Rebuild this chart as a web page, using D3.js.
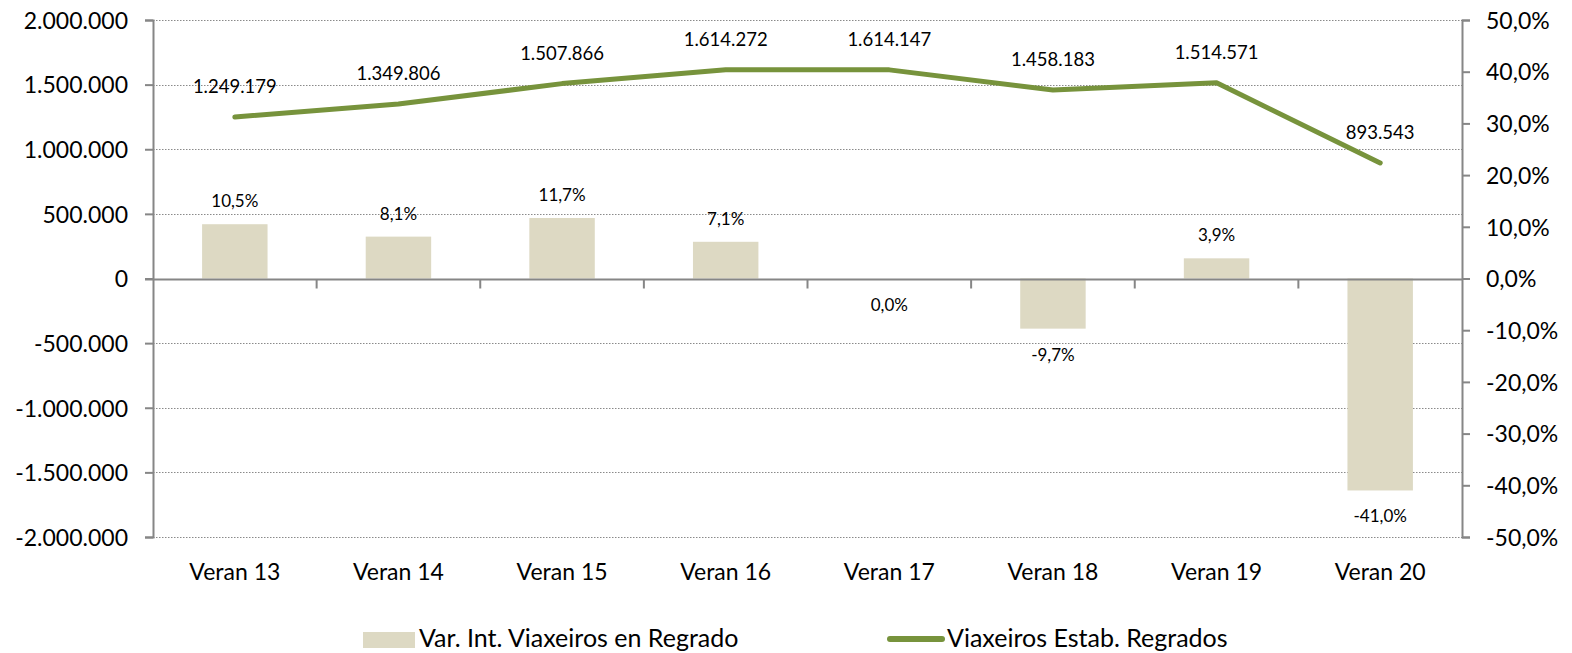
<!DOCTYPE html>
<html>
<head>
<meta charset="utf-8">
<script src="https://cdn.jsdelivr.net/npm/d3@7"></script>
<style>
  html, body { margin: 0; padding: 0; background: #fff; }
  svg { display: block; font-family: Lato, "Open Sans", sans-serif; }
</style>
</head>
<body>
<svg id="chart" width="1572" height="653"></svg>
<script>
// ---- data ----
const categories = ["Veran 13", "Veran 14", "Veran 15", "Veran 16", "Veran 17", "Veran 18", "Veran 19", "Veran 20"];
const viaxeiros = [1249179, 1349806, 1507866, 1614272, 1614147, 1458183, 1514571, 893543];
const variacion = [10.5, 8.1, 11.7, 7.1, 0.0, -9.7, 3.9, -41.0];
const leftTicks = [-2000000, -1500000, -1000000, -500000, 0, 500000, 1000000, 1500000, 2000000];
const rightTicks = [-50, -40, -30, -20, -10, 0, 10, 20, 30, 40, 50];
const legendLabels = ["Var. Int. Viaxeiros en Regrado", "Viaxeiros Estab. Regrados"];

// ---- setup ----
const svg = d3.select("#chart");
const L = 153, R = 1462, T = 20, B = 537;
const axisColor = "#868686";
const barColor = "#DDD9C3";
const lineColor = "#77933C";

const loc = d3.formatLocale({decimal: ",", thousands: ".", grouping: [3], currency: ["", ""], minus: "-"});
const fmtInt = loc.format(",d");
const fmt1 = loc.format(".1f");

const x = d3.scaleBand().domain(categories).range([L, R]).paddingInner(0).paddingOuter(0);
const yL = d3.scaleLinear().domain([-2000000, 2000000]).range([B, T]);
const yR = d3.scaleLinear().domain([-50, 50]).range([B, T]);
const bw = x.bandwidth() * 0.4;

// gridlines (dotted)
svg.append("g").selectAll("line")
  .data(leftTicks.filter(d => d !== 0))
  .join("line")
  .attr("x1", L).attr("x2", R)
  .attr("y1", d => Math.round(yL(d)) + 0.5).attr("y2", d => Math.round(yL(d)) + 0.5)
  .attr("stroke", "#8a8a8a").attr("stroke-width", 1)
  .attr("stroke-dasharray", "1.5,1.5");

// bars
svg.append("g").selectAll("rect")
  .data(variacion)
  .join("rect")
  .attr("x", (d, i) => x(categories[i]) + (x.bandwidth() - bw) / 2)
  .attr("width", bw)
  .attr("y", d => yR(Math.max(0, d)))
  .attr("height", d => Math.abs(yR(d) - yR(0)))
  .attr("fill", barColor);

// zero line
const y0 = Math.round(yL(0)) + 0.5;
svg.append("line").attr("x1", L - 8).attr("x2", R).attr("y1", y0).attr("y2", y0)
  .attr("stroke", axisColor).attr("stroke-width", 2);

// category ticks on zero line
svg.append("g").selectAll("line")
  .data(categories.slice(1))
  .join("line")
  .attr("x1", d => x(d)).attr("x2", d => x(d))
  .attr("y1", y0).attr("y2", y0 + 9)
  .attr("stroke", axisColor).attr("stroke-width", 2);

// left axis
const gL = svg.append("g").attr("transform", `translate(${L},0)`)
  .call(d3.axisLeft(yL).tickValues(leftTicks).tickSize(8).tickPadding(17).tickFormat(fmtInt));
gL.select(".domain").attr("stroke", axisColor).attr("stroke-width", 2);
gL.selectAll(".tick line").attr("stroke", axisColor).attr("stroke-width", 2);
gL.selectAll(".tick text").attr("font-size", 23).attr("fill", "#000").attr("dy", "0.36em")
  .attr("font-family", "Lato, sans-serif");

// right axis
const gR = svg.append("g").attr("transform", `translate(${R},0)`)
  .call(d3.axisRight(yR).tickValues(rightTicks).tickSize(8).tickPadding(16).tickFormat(d => fmt1(d) + "%"));
gR.select(".domain").attr("stroke", axisColor).attr("stroke-width", 2);
gR.selectAll(".tick line").attr("stroke", axisColor).attr("stroke-width", 2);
gR.selectAll(".tick text").attr("font-size", 23).attr("fill", "#000").attr("dy", "0.36em")
  .attr("font-family", "Lato, sans-serif");

// category labels
svg.append("g").selectAll("text")
  .data(categories)
  .join("text")
  .attr("x", d => x(d) + x.bandwidth() / 2)
  .attr("y", 580)
  .attr("text-anchor", "middle")
  .attr("font-size", 23)
  .text(d => d);

// line
const line = d3.line()
  .x((d, i) => x(categories[i]) + x.bandwidth() / 2)
  .y(d => yL(d));
svg.append("path").datum(viaxeiros)
  .attr("d", line)
  .attr("fill", "none")
  .attr("stroke", lineColor)
  .attr("stroke-width", 5)
  .attr("stroke-linecap", "round")
  .attr("stroke-linejoin", "round");

// line labels
svg.append("g").selectAll("text")
  .data(viaxeiros)
  .join("text")
  .attr("x", (d, i) => x(categories[i]) + x.bandwidth() / 2)
  .attr("y", d => yL(d) - 24)
  .attr("text-anchor", "middle")
  .attr("font-size", 18.5)
  .text(d => fmtInt(d));

// bar labels
svg.append("g").selectAll("text")
  .data(variacion)
  .join("text")
  .attr("x", (d, i) => x(categories[i]) + x.bandwidth() / 2)
  .attr("y", d => d > 0 ? yR(d) - 17 : yR(Math.min(0, d)) + 32)
  .attr("text-anchor", "middle")
  .attr("font-size", 17)
  .text(d => fmt1(d) + "%");

// legend
const lg = svg.append("g");
lg.append("rect").attr("x", 363).attr("y", 632).attr("width", 52).attr("height", 16).attr("fill", barColor);
lg.append("text").attr("x", 419).attr("y", 647).attr("font-size", 25).text(legendLabels[0]);
lg.append("line").attr("x1", 890).attr("x2", 942).attr("y1", 639).attr("y2", 639)
  .attr("stroke", lineColor).attr("stroke-width", 6).attr("stroke-linecap", "round");
lg.append("text").attr("x", 947).attr("y", 647).attr("font-size", 25).text(legendLabels[1]);
</script>
</body>
</html>
